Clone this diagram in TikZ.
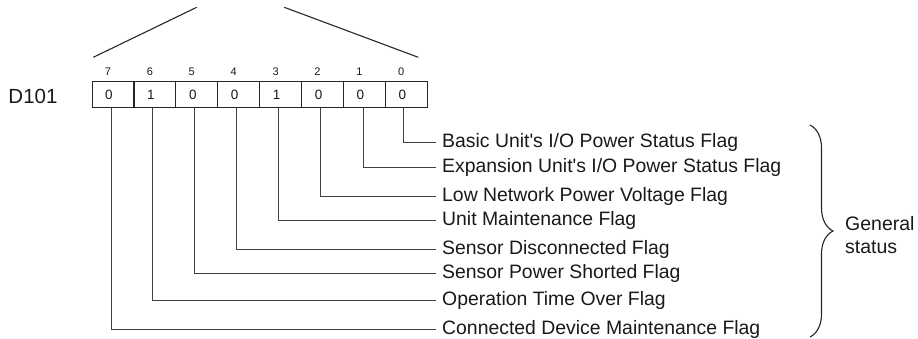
\documentclass[tikz,border=0pt]{standalone}
\usepackage{fontspec}
\setmainfont{Liberation Sans}
\usetikzlibrary{positioning, decorations.pathreplacing}

\begin{document}
\begin{tikzpicture}[
    x=1pt, y=-1pt,
    every node/.style={text=black!90},
    cell/.style={draw=black!85, line width=1.1pt, minimum width=41.9pt,
      minimum height=25.6pt, inner sep=0pt, outer sep=0pt},
    bitno/.style={font=\fontsize{11}{13}\selectfont, inner sep=1pt,
      label distance=5pt, xshift=-5pt},
    val/.style={font=\fontsize{13.5}{15}\selectfont, inner sep=0pt, xshift=-4pt},
    flag/.style={font=\fontsize{19.4}{22}\selectfont, text height=10.5pt,
      text depth=0pt, inner sep=6pt, anchor=west},
    gen/.style={font=\fontsize{19.5}{22}\selectfont, inner sep=0pt, anchor=base west},
    lead/.style={draw=black!75, line width=0.9pt},
    edge/.style={draw=black!85, line width=1.1pt}
  ]
  \useasboundingbox (0,0) rectangle (918,338);

  % ── Byte marker (top) ───────────────────────────────────────────────────
  \coordinate (wl) at (93.3, 57.3);
  \coordinate (wt) at (196.7, 7.3);
  \coordinate (wu) at (284.3, 7.3);
  \coordinate (wr) at (418.3, 57.3);
  \draw[edge] (wl) -- (wt);
  \draw[edge] (wu) -- (wr);

  % ── Register D101: bits 7 ... 0 ─────────────────────────────────────────
  \node[font=\fontsize{20.5}{24}\selectfont, text height=14.7pt, text depth=0pt]
    (reg) at (33, 96.5) {D101};

  \node[cell, label={[bitno]above:7}, label={[val]center:0}] (c7) at (113, 94.5) {};
  \node[cell, right=0pt of c7, label={[bitno]above:6}, label={[val]center:1}] (c6) {};
  \node[cell, right=0pt of c6, label={[bitno]above:5}, label={[val]center:0}] (c5) {};
  \node[cell, right=0pt of c5, label={[bitno]above:4}, label={[val]center:0}] (c4) {};
  \node[cell, right=0pt of c4, label={[bitno]above:3}, label={[val]center:1}] (c3) {};
  \node[cell, right=0pt of c3, label={[bitno]above:2}, label={[val]center:0}] (c2) {};
  \node[cell, right=0pt of c2, label={[bitno]above:1}, label={[val]center:0}] (c1) {};
  \node[cell, right=0pt of c1, label={[bitno]above:0}, label={[val]center:0}] (c0) {};

  % ── Flag texts ──────────────────────────────────────────────────────────
  \node[flag] (f0) at (436, 142.7) {Basic Unit\textquotesingle s I/O Power Status Flag};
  \node[flag] (f1) at (436, 167.7) {Expansion Unit\textquotesingle s I/O Power Status Flag};
  \node[flag] (f2) at (436, 196.0) {Low Network Power Voltage Flag};
  \node[flag] (f3) at (436, 220.7) {Unit Maintenance Flag};
  \node[flag] (f4) at (436, 249.3) {Sensor Disconnected Flag};
  \node[flag] (f5) at (436, 273.7) {Sensor Power Shorted Flag};
  \node[flag] (f6) at (436, 300.7) {Operation Time Over Flag};
  \node[flag] (f7) at (436, 329.3) {Connected Device Maintenance Flag};

  % leaders from each bit down and across to its flag
  \draw[lead] ([xshift=-2.5pt]c0.south) |- (f0.west);
  \draw[lead] ([xshift=-0.7pt]c1.south) |- (f1.west);
  \draw[lead] ([xshift=-2.5pt]c2.south) |- (f2.west);
  \draw[lead] ([xshift=-2.3pt]c3.south) |- (f3.west);
  \draw[lead] ([xshift=-2.4pt]c4.south) |- (f4.west);
  \draw[lead] ([xshift=-2.5pt]c5.south) |- (f5.west);
  \draw[lead] ([xshift=-2.3pt]c6.south) |- (f6.west);
  \draw[lead] ([xshift=-2pt]c7.south) |- (f7.west);

  % ── Brace: general status ───────────────────────────────────────────────
  \coordinate (bt) at (810, 125);
  \coordinate (bb) at (810, 337);
  \draw[edge, decorate, decoration={brace, amplitude=23pt}] (bt) -- (bb);
  \node[gen] (gen1) at (845, 230) {General};
  \node[gen] (gen2) at (845, 253) {status};

\end{tikzpicture}
\end{document}
